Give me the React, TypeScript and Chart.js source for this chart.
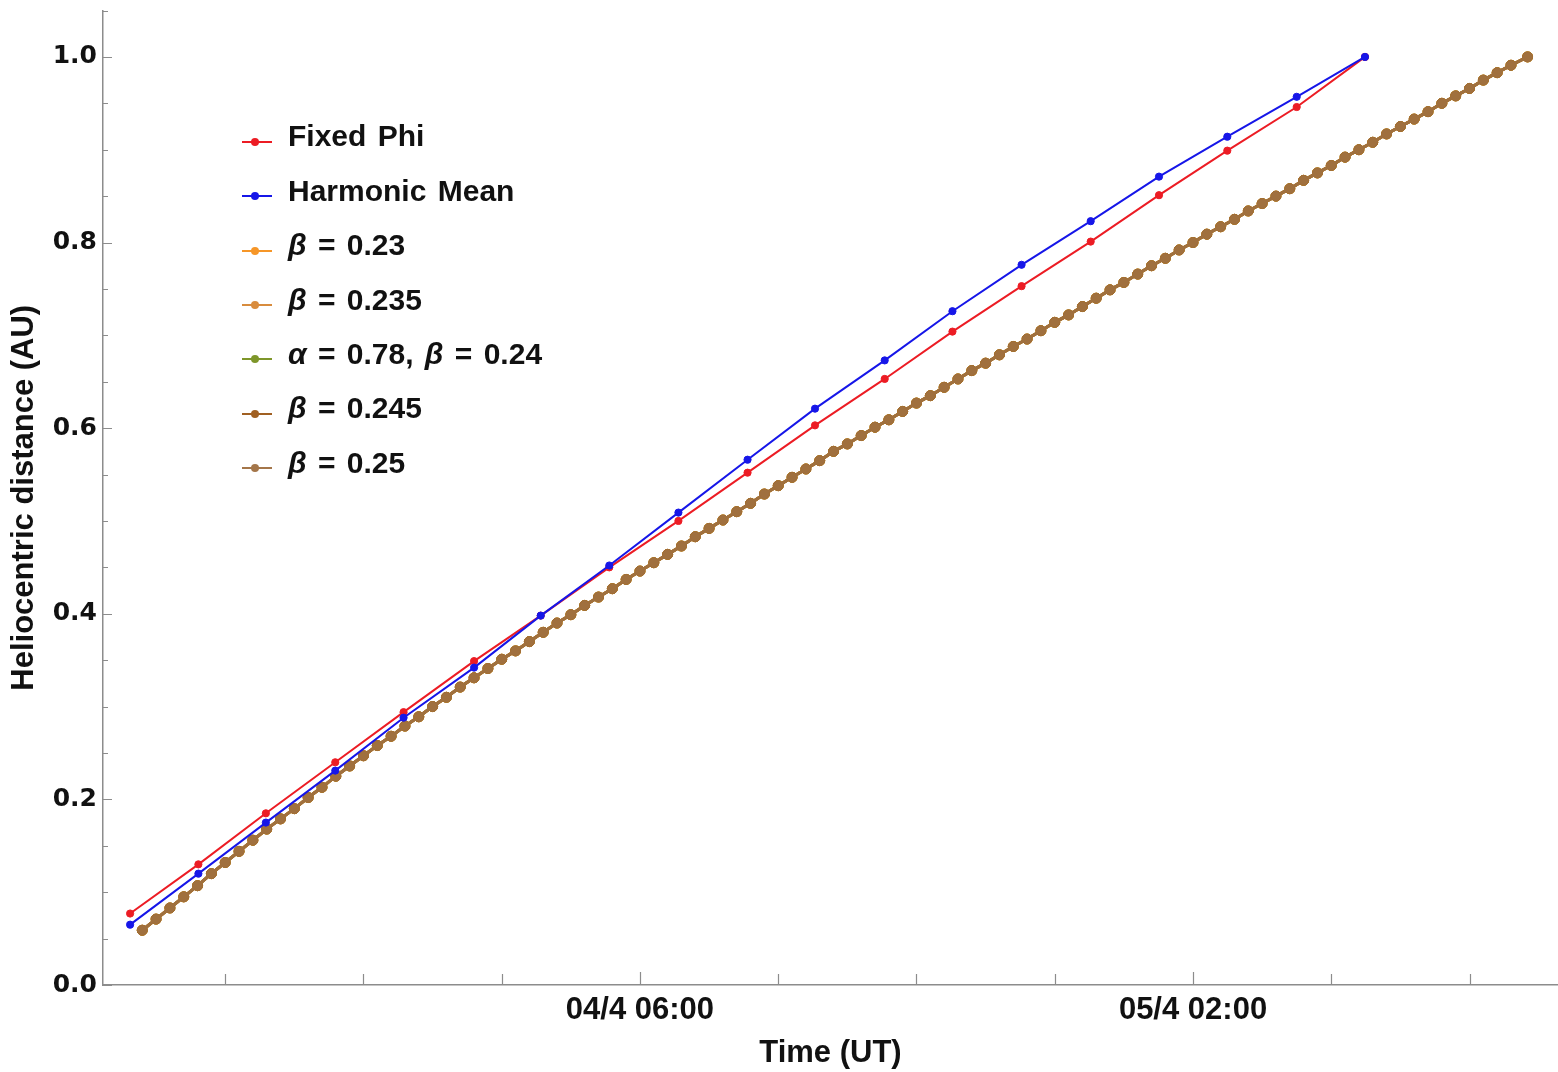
import React, { useEffect, useRef } from 'react';
import { Chart, registerables } from 'chart.js';

Chart.register(...registerables);

// Hours since 04/4 00:00 UT
const phiTimes = [-12.44, -9.97, -7.53, -5.02, -2.55, 0.0, 2.41, 4.89, 7.39, 9.89, 12.33, 14.85, 17.3, 19.8, 22.3, 24.77, 27.24, 29.75, 32.22];
const fixedPhi = [0.077, 0.13, 0.185, 0.24, 0.294, 0.349, 0.398, 0.45, 0.5, 0.552, 0.603, 0.653, 0.704, 0.753, 0.801, 0.851, 0.899, 0.946, 1.0];
const harmonicMean = [0.065, 0.12, 0.175, 0.231, 0.288, 0.342, 0.398, 0.452, 0.509, 0.566, 0.621, 0.673, 0.726, 0.776, 0.823, 0.871, 0.914, 0.957, 1.0];

const betaTimes = [
  -12, -11.5, -11, -10.5, -10, -9.5, -9, -8.5, -8, -7.5,
  -7, -6.5, -6, -5.5, -5, -4.5, -4, -3.5, -3, -2.5,
  -2, -1.5, -1, -0.5, 0, 0.5, 1, 1.5, 2, 2.5,
  3, 3.5, 4, 4.5, 5, 5.5, 6, 6.5, 7, 7.5,
  8, 8.5, 9, 9.5, 10, 10.5, 11, 11.5, 12, 12.5,
  13, 13.5, 14, 14.5, 15, 15.5, 16, 16.5, 17, 17.5,
  18, 18.5, 19, 19.5, 20, 20.5, 21, 21.5, 22, 22.5,
  23, 23.5, 24, 24.5, 25, 25.5, 26, 26.5, 27, 27.5,
  28, 28.5, 29, 29.5, 30, 30.5, 31, 31.5, 32, 32.5,
  33, 33.5, 34, 34.5, 35, 35.5, 36, 36.5, 37, 37.5,
  38.1,
];
const betaCurve = [
  0.059, 0.071, 0.083, 0.095, 0.107, 0.12, 0.132, 0.144, 0.156, 0.168,
  0.179, 0.19, 0.202, 0.213, 0.225, 0.236, 0.247, 0.258, 0.268, 0.279,
  0.289, 0.3, 0.31, 0.321, 0.331, 0.341, 0.351, 0.36, 0.37, 0.38,
  0.39, 0.399, 0.409, 0.418, 0.427, 0.437, 0.446, 0.455, 0.464, 0.473,
  0.483, 0.492, 0.501, 0.51, 0.519, 0.529, 0.538, 0.547, 0.556, 0.565,
  0.575, 0.583, 0.592, 0.601, 0.609, 0.618, 0.627, 0.635, 0.644, 0.653,
  0.662, 0.67, 0.679, 0.688, 0.696, 0.705, 0.714, 0.722, 0.731, 0.74,
  0.749, 0.757, 0.766, 0.775, 0.783, 0.792, 0.8, 0.809, 0.817, 0.825,
  0.834, 0.842, 0.85, 0.858, 0.867, 0.875, 0.883, 0.892, 0.9, 0.908,
  0.917, 0.925, 0.933, 0.941, 0.95, 0.958, 0.966, 0.975, 0.983, 0.991,
  1.0,
];
// The five β curves coincide at the resolution of the picture
const beta0230 = betaCurve;
const beta0235 = betaCurve;
const alphaBeta0240 = betaCurve;
const beta0245 = betaCurve;
const beta0250 = betaCurve;

const seriesLabels = ['Fixed Phi', 'Harmonic Mean', 'β = 0.23', 'β = 0.235', 'α = 0.78, β = 0.24', 'β = 0.245', 'β = 0.25'];
const seriesColors = ['rgb(236,28,36)', 'rgb(22,22,232)', 'rgb(246,150,40)', 'rgb(216,140,62)', 'rgb(126,150,42)', 'rgb(160,96,34)', 'rgb(164,118,74)'];
const plotColors = ['rgb(236,28,36)', 'rgb(22,22,232)', 'rgb(240,150,40)', 'rgb(214,138,58)', 'rgb(150,140,40)', 'rgb(165,105,45)', 'rgb(160,112,62)'];

const xTickHours = [-9, -4, 1, 6, 11, 16, 21, 26, 31, 36];
const xLabelHours = [6, 26];
const xLabelTexts = ['04/4 06:00', '05/4 02:00'];
const yMajorTicks = [0, 0.2, 0.4, 0.6, 0.8, 1.0];
const yMinorTicks = [0.05, 0.1, 0.15, 0.25, 0.3, 0.35, 0.45, 0.5, 0.55, 0.65, 0.7, 0.75, 0.85, 0.9, 0.95, 1.05];

const FONT = "'Liberation Sans', Arial, sans-serif";

const tickMarks = {
  id: 'tickMarks',
  beforeDatasetsDraw(chart: any) {
    const { ctx, chartArea } = chart;
    const xs = chart.scales.x;
    const ys = chart.scales.y;
    ctx.save();
    ctx.strokeStyle = '#8c8c8c';
    ctx.lineWidth = 1.2;
    ctx.beginPath();
    for (const h of xTickHours) {
      const px = Math.round(xs.getPixelForValue(h)) + 0.5;
      const len = xLabelHours.includes(h) ? 13 : 11;
      ctx.moveTo(px, chartArea.bottom);
      ctx.lineTo(px, chartArea.bottom - len);
    }
    for (const v of yMajorTicks) {
      const py = Math.round(ys.getPixelForValue(v)) + 0.5;
      ctx.moveTo(chartArea.left, py);
      ctx.lineTo(chartArea.left + 9, py);
    }
    for (const v of yMinorTicks) {
      const py = Math.round(ys.getPixelForValue(v)) + 0.5;
      ctx.moveTo(chartArea.left, py);
      ctx.lineTo(chartArea.left + 5, py);
    }
    ctx.stroke();
    ctx.restore();
  },
};

function zip(xs: number[], ys: number[]) {
  return xs.map((x, i) => ({ x, y: ys[i] }));
}

function renderLabel(text: string) {
  const parts = text.split(/([αβ])/);
  return parts.map((p, i) =>
    p === 'α' || p === 'β' ? <i key={i}>{p}</i> : <span key={i}>{p}</span>
  );
}

export default function App() {
  const canvasRef = useRef<HTMLCanvasElement | null>(null);

  useEffect(() => {
    const canvas = canvasRef.current;
    if (!canvas) return;
    const line = (idx: number, times: number[], vals: number[], radius: number, width: number, order: number) => ({
      label: seriesLabels[idx],
      data: zip(times, vals),
      borderColor: plotColors[idx],
      backgroundColor: plotColors[idx],
      pointBackgroundColor: plotColors[idx],
      pointBorderColor: plotColors[idx],
      borderWidth: width,
      pointRadius: radius,
      pointBorderWidth: 1,
      tension: 0,
      fill: false,
      clip: false,
      order,
    });
    const chart = new Chart(canvas, {
      type: 'line',
      data: {
        datasets: [
          line(0, phiTimes, fixedPhi, 3.6, 2, 1),
          line(1, phiTimes, harmonicMean, 3.6, 2, 0),
          line(2, betaTimes, beta0230, 5, 3, 6),
          line(3, betaTimes, beta0235, 5, 3, 5),
          line(4, betaTimes, alphaBeta0240, 5, 3, 4),
          line(5, betaTimes, beta0245, 5, 3, 3),
          line(6, betaTimes, beta0250, 4.6, 3, 2),
        ] as any,
      },
      options: {
        animation: false,
        responsive: false,
        devicePixelRatio: 1,
        layout: { autoPadding: false, padding: { top: 10.5, right: 0, left: 0, bottom: 0 } },
        plugins: { legend: { display: false }, tooltip: { enabled: false } },
        scales: {
          x: {
            type: 'linear',
            min: -13.42,
            max: 39.2,
            afterBuildTicks: (s: any) => {
              s.ticks = xLabelHours.map((v) => ({ value: v }));
            },
            afterFit: (s: any) => {
              s.height = 87;
              s.paddingLeft = 0;
              s.paddingRight = 0;
            },
            ticks: {
              autoSkip: false,
              maxRotation: 0,
              padding: 7,
              color: '#111',
              font: { family: FONT, weight: 'bold', size: 31 },
              callback: (v: any) => {
                const i = xLabelHours.indexOf(Number(v));
                return i >= 0 ? xLabelTexts[i] : '';
              },
            },
            grid: { drawOnChartArea: false, drawTicks: false },
            border: { color: '#8c8c8c', width: 1.5 },
            title: {
              display: true,
              text: 'Time (UT)',
              color: '#111',
              font: { family: FONT, weight: 'bold', size: 31 },
              padding: { top: 0, bottom: 0 },
            },
          },
          y: {
            type: 'linear',
            min: 0,
            max: 1.05,
            afterBuildTicks: (s: any) => {
              s.ticks = yMajorTicks.map((v) => ({ value: v }));
            },
            afterFit: (s: any) => {
              s.width = 103;
              s.paddingTop = 0;
              s.paddingBottom = 0;
            },
            ticks: {
              padding: 6,
              color: '#111',
              font: { family: "'DejaVu Sans', sans-serif", weight: 'bold', size: 25 },
              callback: (v: any) => Number(v).toFixed(1),
            },
            grid: { drawOnChartArea: false, drawTicks: false },
            border: { color: '#8c8c8c', width: 1.5 },
            title: {
              display: true,
              text: 'Heliocentric distance (AU)',
              color: '#111',
              font: { family: FONT, weight: 'bold', size: 31 },
              padding: { top: 6, bottom: 0 },
            },
          },
        },
      } as any,
      plugins: [tickMarks],
    });
    return () => chart.destroy();
  }, []);

  const rowTop = 141.7;
  const rowGap = 54.4;

  return (
    <div style={{ position: 'absolute', left: 0, top: 0, width: 1558, height: 1072, background: '#fff' }}>
      <canvas ref={canvasRef} width={1558} height={1072} style={{ display: 'block', width: 1558, height: 1072 }} />
      {seriesLabels.map((lab, i) => {
        const cy = rowTop + rowGap * i;
        return (
          <div key={i}>
            <div
              style={{
                position: 'absolute',
                left: 242,
                top: cy - 1,
                width: 30,
                height: 2,
                background: seriesColors[i],
              }}
            />
            <div
              style={{
                position: 'absolute',
                left: 251,
                top: cy - 4,
                width: 8,
                height: 8,
                borderRadius: '50%',
                background: seriesColors[i],
              }}
            />
            <div
              style={{
                position: 'absolute',
                left: 288,
                top: cy + 5 - 25.4,
                fontFamily: FONT,
                fontWeight: 'bold',
                fontSize: 30,
                lineHeight: '30px',
                wordSpacing: 3,
                color: '#111',
                whiteSpace: 'nowrap',
              }}
            >
              {renderLabel(lab)}
            </div>
          </div>
        );
      })}
    </div>
  );
}
